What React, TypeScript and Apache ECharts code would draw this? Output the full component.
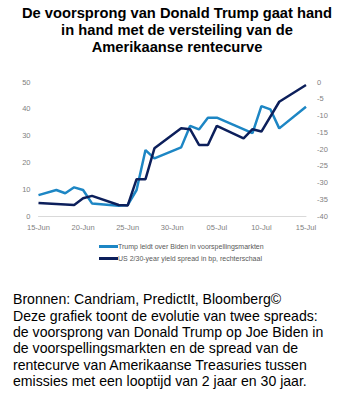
import React, { useEffect, useRef } from "react";
import * as echarts from "echarts";

const trumpDates = [
  "2024-06-15", "2024-06-17", "2024-06-18", "2024-06-19", "2024-06-20", "2024-06-21",
  "2024-06-24", "2024-06-25", "2024-06-26", "2024-06-27", "2024-06-28",
  "2024-07-01", "2024-07-02", "2024-07-03", "2024-07-04", "2024-07-05",
  "2024-07-09", "2024-07-10", "2024-07-11", "2024-07-12", "2024-07-15",
];
const trumpLead = [
  7.8, 9.7, 8.5, 10.7, 9.7, 4.7,
  3.8, 4.1, 9.7, 24.6, 21.5,
  25.6, 33.6, 32.3, 36.7, 36.7,
  30.9, 41.0, 39.8, 32.7, 40.8,
];

const spreadDates = [
  "2024-06-15", "2024-06-19", "2024-06-20", "2024-06-21",
  "2024-06-24", "2024-06-25", "2024-06-26", "2024-06-27", "2024-06-28",
  "2024-07-01", "2024-07-02", "2024-07-03", "2024-07-04", "2024-07-05",
  "2024-07-08", "2024-07-09", "2024-07-10", "2024-07-12", "2024-07-15",
];
const yieldSpread = [
  -36.1, -36.7, -34.7, -34.0,
  -36.7, -36.9, -29.0, -29.0, -19.8,
  -13.8, -14.1, -18.8, -18.8, -13.1,
  -16.8, -14.1, -14.8, -5.9, -0.9,
];

const startDate = "2024-06-15";
const endDate = "2024-07-15";
const leftTicks = { min: 0, max: 50, interval: 10 };
const rightTicks = { min: -40, max: 0, interval: 5 };

const titleText =
  "De voorsprong van Donald Trump gaat hand\nin hand met de versteiling van de\nAmerikaanse rentecurve";
const footerLines = [
  "Bronnen: Candriam, PredictIt, Bloomberg©",
  "Deze grafiek toont de evolutie van twee spreads:",
  "de voorsprong van Donald Trump op Joe Biden in",
  "de voorspellingsmarkten en de spread van de",
  "rentecurve van Amerikaanse Treasuries tussen",
  "emissies met een looptijd van 2 jaar en 30 jaar.",
];
const seriesNames = [
  "Trump leidt over Biden in voorspellingsmarkten",
  "US 2/30-year yield spread in bp, rechterschaal",
];
const months = ["Jan", "Feb", "Mar", "Apr", "May", "Jun", "Jul", "Aug", "Sep", "Oct", "Nov", "Dec"];

const DAY = 86400000;
const t0 = Date.UTC(2024, 5, 15);
const toDay = (s: string) => {
  const [y, m, d] = s.split("-").map(Number);
  return Math.round((Date.UTC(y, m - 1, d) - t0) / DAY);
};
const dayLabel = (v: number) => {
  const dt = new Date(t0 + v * DAY);
  const d = dt.getUTCDate();
  return (d < 10 ? "0" + d : "" + d) + "-" + months[dt.getUTCMonth()];
};

const LIGHT = "#1d86c4";
const DARK = "#0c1f5b";
const SMALL = "'Liberation Sans', Arial, sans-serif";

export default function App() {
  const ref = useRef<HTMLDivElement>(null);
  useEffect(() => {
    document.body.style.margin = "0";
    const chart = echarts.init(ref.current!, null, { renderer: "svg" });
    chart.setOption({
      animation: false,
      backgroundColor: "#ffffff",
      grid: { left: 38.5, right: 49, top: 82, bottom: 185 },
      xAxis: {
        type: "value",
        min: toDay(startDate),
        max: toDay(endDate),
        interval: 5,
        splitLine: { show: false },
        axisTick: { show: false },
        axisLine: { lineStyle: { color: "#d9d9d9", width: 1 } },
        axisLabel: {
          formatter: (v: number) => dayLabel(v),
          color: "#7f7f7f",
          fontSize: 7.5,
          fontFamily: SMALL,
          margin: 7,
        },
      },
      yAxis: [
        {
          type: "value",
          ...leftTicks,
          splitLine: { show: false },
          axisLine: { show: false },
          axisTick: { show: false },
          axisLabel: { color: "#7f7f7f", fontSize: 7.5, fontFamily: SMALL, margin: 8 },
        },
        {
          type: "value",
          position: "right",
          ...rightTicks,
          splitLine: { show: false },
          axisLine: { show: false },
          axisTick: { show: false },
          axisLabel: { color: "#7f7f7f", fontSize: 7.5, fontFamily: SMALL, margin: 11 },
        },
      ],
      legend: {
        orient: "vertical",
        left: 94,
        top: 238,
        itemWidth: 19,
        itemHeight: 3,
        itemGap: 5,
        icon: "rect",
        textStyle: { color: "#595959", fontSize: 7, fontFamily: SMALL, padding: [0, 0, 0, -5] },
        data: seriesNames,
      },
      series: [
        {
          name: seriesNames[0],
          type: "line",
          yAxisIndex: 0,
          showSymbol: false,
          symbol: "none",
          lineStyle: { color: LIGHT, width: 2.5 },
          itemStyle: { color: LIGHT },
          data: trumpDates.map((d, i) => [toDay(d), trumpLead[i]]),
        },
        {
          name: seriesNames[1],
          type: "line",
          yAxisIndex: 1,
          showSymbol: false,
          symbol: "none",
          lineStyle: { color: DARK, width: 2.5 },
          itemStyle: { color: DARK },
          data: spreadDates.map((d, i) => [toDay(d), yieldSpread[i]]),
        },
      ],
      graphic: [
        {
          type: "text",
          x: 177,
          y: 4,
          style: {
            text: titleText,
            textAlign: "center",
            font: "bold 14.7px 'Liberation Sans', Arial, sans-serif",
            lineHeight: 17,
            fill: "#000",
          },
        },
        {
          type: "text",
          left: 13,
          top: 291,
          style: {
            text: footerLines.join("\n"),
            font: "14.1px 'Liberation Sans', Arial, sans-serif",
            lineHeight: 16.4,
            fill: "#000",
          },
        },
      ],
    });
    return () => chart.dispose();
  }, []);
  return <div ref={ref} style={{ width: 355, height: 401, position: "absolute", left: 0, top: 0 }} />;
}
